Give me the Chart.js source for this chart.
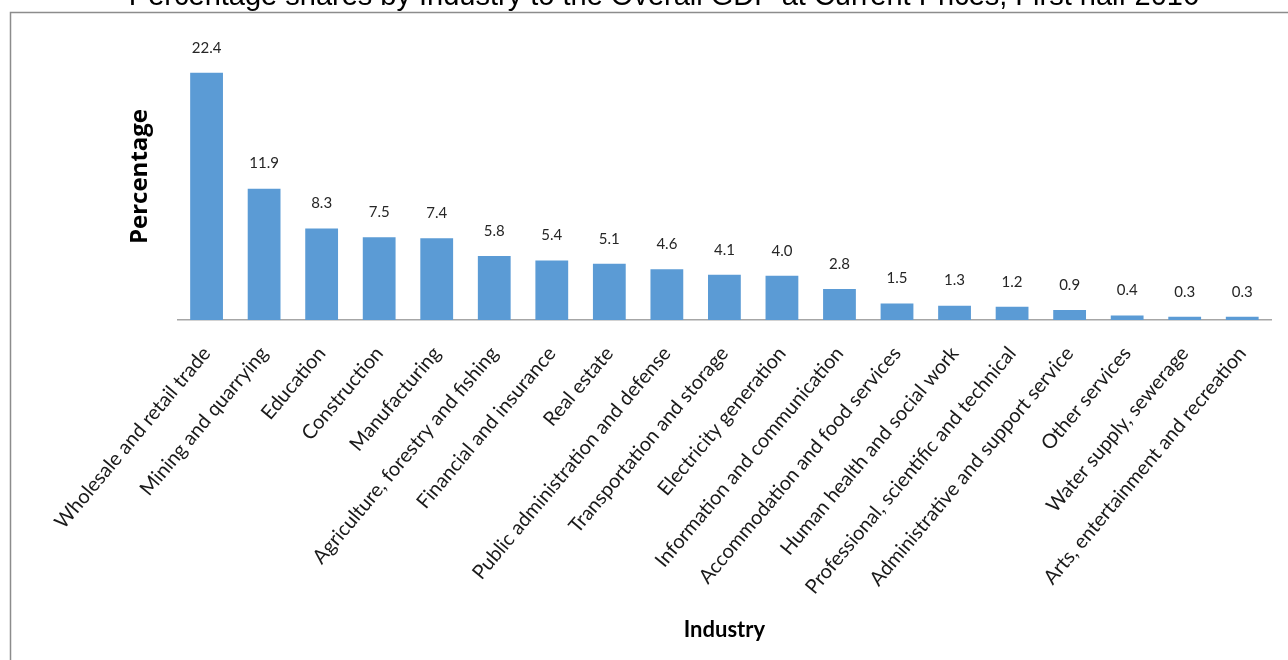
<!DOCTYPE html>
<html>
<head>
<meta charset="utf-8">
<script src="https://cdn.jsdelivr.net/npm/chart.js@4"></script>
<style>
  html, body { margin: 0; padding: 0; background: #fff; }
  #wrap { position: relative; width: 1288px; height: 660px; }
</style>
</head>
<body>
<div id="wrap"><canvas id="myChart" width="1288" height="660"></canvas></div>
<script>
const chartTitle = 'Percentage shares by Industry to the Overall GDP at Current Prices, First half 2016';

const industries = [
  'Wholesale and retail trade',
  'Mining and quarrying',
  'Education',
  'Construction',
  'Manufacturing',
  'Agriculture, forestry and fishing',
  'Financial and insurance',
  'Real estate',
  'Public administration and defense',
  'Transportation and storage',
  'Electricity generation',
  'Information and communication',
  'Accommodation and food services',
  'Human health and social work',
  'Professional, scientific and technical',
  'Administrative and support service',
  'Other services',
  'Water supply, sewerage',
  'Arts, entertainment and recreation'
];

const shares = [22.4, 11.9, 8.3, 7.5, 7.4, 5.8, 5.4, 5.1, 4.6, 4.1, 4.0, 2.8, 1.5, 1.3, 1.2, 0.9, 0.4, 0.3, 0.3];

// frame + title (title sits partly above the top edge, like the source)
const frameTitle = {
  id: 'frameTitle',
  beforeDraw(chart) {
    const ctx = chart.ctx;
    ctx.save();
    ctx.strokeStyle = '#8c8c8c';
    ctx.lineWidth = 1.5;
    ctx.beginPath();
    ctx.moveTo(10.5, 700);
    ctx.lineTo(10.5, 12.5);
    ctx.lineTo(1300, 12.5);
    ctx.stroke();
    ctx.fillStyle = '#000';
    ctx.font = '29px "Liberation Sans", Arial, sans-serif';
    ctx.textAlign = 'center';
    ctx.textBaseline = 'alphabetic';
    ctx.fillText(chartTitle, 664, 5);
    ctx.restore();
  }
};

// value labels above bars
const valueLabels = {
  id: 'valueLabels',
  afterDatasetsDraw(chart) {
    const ctx = chart.ctx;
    const meta = chart.getDatasetMeta(0);
    ctx.save();
    ctx.fillStyle = '#262626';
    ctx.font = '15px Lato, "Open Sans", sans-serif';
    ctx.textAlign = 'center';
    ctx.textBaseline = 'middle';
    meta.data.forEach((bar, i) => {
      ctx.fillText(shares[i].toFixed(1), bar.x, bar.y - 25);
    });
    ctx.restore();
  }
};

const data = {
  labels: industries,
  datasets: [{
    label: 'Percentage',
    data: shares,
    backgroundColor: '#5b9bd5',
    borderWidth: 0,
    barPercentage: 0.57,
    categoryPercentage: 1.0
  }]
};

const config = {
  type: 'bar',
  data: data,
  options: {
    responsive: false,
    animation: false,
    layout: { padding: { left: 126, right: 17, top: 33, bottom: 10 } },
    plugins: {
      legend: { display: false },
      tooltip: { enabled: false },
      title: { display: false }
    },
    scales: {
      x: {
        // axis block is taller than half the canvas in the source
        afterFit(scale) {
          scale.paddingLeft = 0;
          scale.paddingRight = 0;
          scale.height = 330;
        },
        grid: { display: false },
        border: { display: true, color: '#a6a6a6', width: 1.5 },
        ticks: {
          color: '#1a1a1a',
          font: { family: 'Lato, "Open Sans", sans-serif', size: 20 },
          minRotation: 50,
          maxRotation: 50,
          padding: 14,
          autoSkip: false
        },
        title: {
          display: true,
          text: 'Industry',
          color: '#000',
          font: { family: 'Lato, "Open Sans", sans-serif', size: 22, weight: 'bold' },
          padding: { top: 22, bottom: 7 }
        }
      },
      y: {
        min: 0,
        max: 26,
        grid: { display: false },
        border: { display: false },
        ticks: { display: false },
        title: {
          display: true,
          text: 'Percentage',
          color: '#000',
          font: { family: '"Open Sans", Lato, sans-serif', size: 24, weight: 'bold' },
          padding: { top: 0, bottom: 15 }
        }
      }
    }
  },
  plugins: [frameTitle, valueLabels]
};

const myChart = new Chart(document.getElementById('myChart'), config);
</script>
</body>
</html>
